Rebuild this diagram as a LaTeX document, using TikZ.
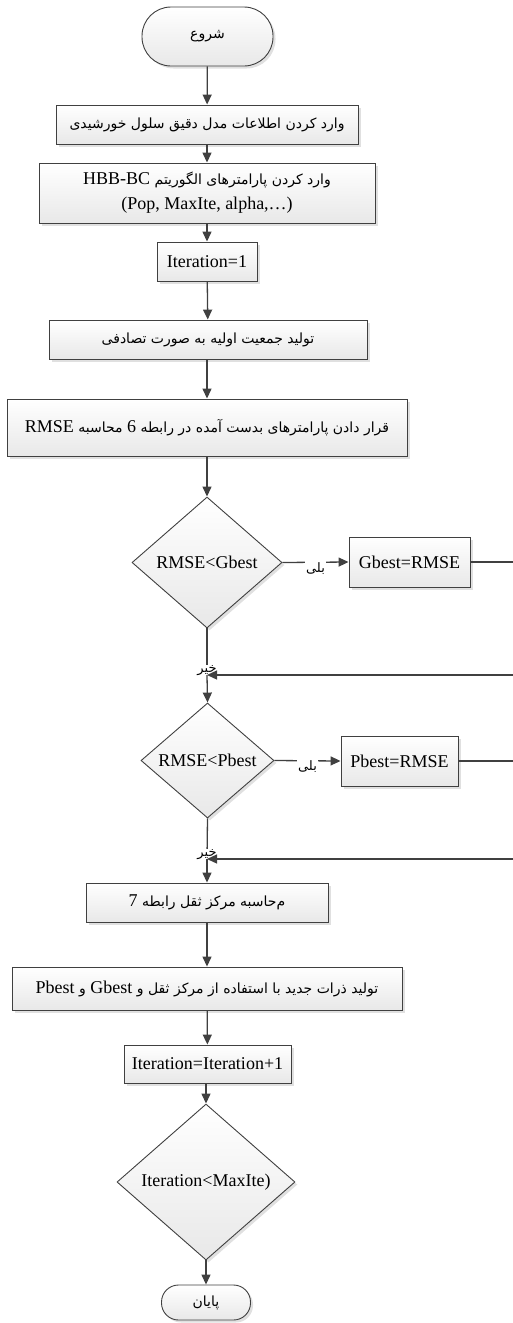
\documentclass[tikz,border=0pt]{standalone}
\usepackage{fontspec}
\setmainfont{Liberation Serif}
\newfontfamily\persfont[Script=Arabic]{DejaVu Sans}
\TeXXeTstate=1
\usetikzlibrary{arrows.meta,positioning,shapes.geometric,shadows}

% Persian text (right to left) and Latin pieces inside it
\newcommand{\fatx}[1]{{\persfont\fontsize{14}{22}\selectfont\beginR #1\endR}}
\newcommand{\latn}[1]{{\rmfamily\fontsize{18}{20}\selectfont\beginL #1\endL}}

\begin{document}
\begin{tikzpicture}[
    x=1pt, y=-1pt,
    base/.style={draw=black!75, line width=0.9pt, top color=white, bottom color=black!9,
        inner sep=0pt, align=center, font=\fontsize{18}{22}\selectfont,
        drop shadow={shadow xshift=2.5pt, shadow yshift=-2.5pt, fill=black, opacity=0.12}},
    procbox/.style={base, rectangle},
    termbox/.style={base, rectangle, rounded corners=17pt},
    decbox/.style={base, diamond},
    flow/.style={draw=black!75, line width=1.3pt, -{Triangle[length=10pt,width=9pt]}},
    wire/.style={draw=black!75, line width=1.3pt},
    answer/.style={fill=white, inner sep=1pt, font=\persfont\fontsize{13}{15}\selectfont}
]
    \useasboundingbox (0,0) rectangle (512,1323);

    % Main column
    \node[termbox, rounded corners=29pt, minimum width=131pt, minimum height=59pt] (start) at (207.5,36.5) {\fatx{شروع}};
    \node[procbox, minimum width=302pt, minimum height=39pt] (readmodel) at (207,124.5) {\fatx{وارد کردن اطلاعات مدل دقیق سلول خورشیدی}};
    \node[procbox, minimum width=336pt, minimum height=60pt] (readparam) at (207,193)
        {\fatx{وارد کردن پارامترهای الگوریتم \latn{HBB-BC}}\\[3pt] (Pop, MaxIte, alpha,…)};
    \node[procbox, minimum width=100pt, minimum height=39pt] (iterone) at (207,261.5) {Iteration=1};
    \node[procbox, minimum width=318pt, minimum height=39pt] (initpop) at (208,339.5) {\fatx{تولید جمعیت اولیه به صورت تصادفی}};
    \node[procbox, minimum width=400pt, minimum height=57pt] (evalrmse) at (207,427.5)
        {\fatx{قرار دادن پارامترهای بدست آمده در رابطه  \latn{6} محاسبه \latn{RMSE}}};

    % Global best test
    \node[decbox, minimum width=150pt, minimum height=131pt] (testg) at (207,562.5) {RMSE<Gbest};
    \node[procbox, minimum width=121pt, minimum height=50pt] (setg) at (409.5,562) {Gbest=RMSE};
    \coordinate (joing) at (207,675);

    % Personal best test
    \node[decbox, minimum width=133pt, minimum height=115pt] (testp) at (207.5,760.5) {RMSE<Pbest};
    \node[procbox, minimum width=117pt, minimum height=50pt] (setp) at (399.5,761) {Pbest=RMSE};
    \coordinate (joinp) at (207,859);

    % Update and loop test
    \node[procbox, minimum width=242pt, minimum height=39pt] (centre) at (207,902.5)
        {\fatx{م‌حاسبه مرکز ثقل رابطه \latn{7}}};
    \node[procbox, minimum width=390pt, minimum height=43pt] (newpart) at (207,988.5)
        {\fatx{تولید  ذرات جدید با استفاده از مرکز ثقل و \latn{Gbest} و \latn{Pbest}}};
    \node[procbox, minimum width=167pt, minimum height=38pt] (iternext) at (207.5,1064) {Iteration=Iteration+1};
    \node[decbox, minimum width=178pt, minimum height=156pt] (testit) at (206,1182) {Iteration<MaxIte)};
    \node[termbox, minimum width=89pt, minimum height=35pt] (stop) at (206,1302.5) {\fatx{پایان}};

    % Connectors
    \draw[flow] (start) -- (readmodel);
    \draw[flow] (readmodel) -- (readparam);
    \draw[flow] (readparam) -- (iterone);
    \draw[flow] (iterone) -- (initpop);
    \draw[flow] (initpop.south -| iterone) -- (evalrmse.north -| iterone);
    \draw[flow] (evalrmse.south -| iterone) -- (testg);
    \draw[flow] (testg.east) -- node[answer, yshift=-6pt] {بلی} (setg.west);
    \draw[wire] (testg.south) -- (joing) node[answer, pos=1, yshift=4pt] {خیر};
    \draw[flow] (setg.east) -- (516,562) |- (joing);
    \draw[flow] (joing) -- (testp.north);
    \draw[flow] (testp.east) -- node[answer, yshift=-6pt] {بلی} (setp.west);
    \draw[wire] (testp.south) -- (joinp) node[answer, pos=1, yshift=4pt] {خیر};
    \draw[flow] (setp.east) -- (516,761) |- (joinp);
    \draw[flow] (joinp) -- (centre);
    \draw[flow] (centre) -- (newpart);
    \draw[flow] (newpart) -- (iternext);
    \draw[flow] (iternext.south -| testit) -- (testit);
    \draw[flow] (testit) -- (stop);
\end{tikzpicture}
\end{document}
